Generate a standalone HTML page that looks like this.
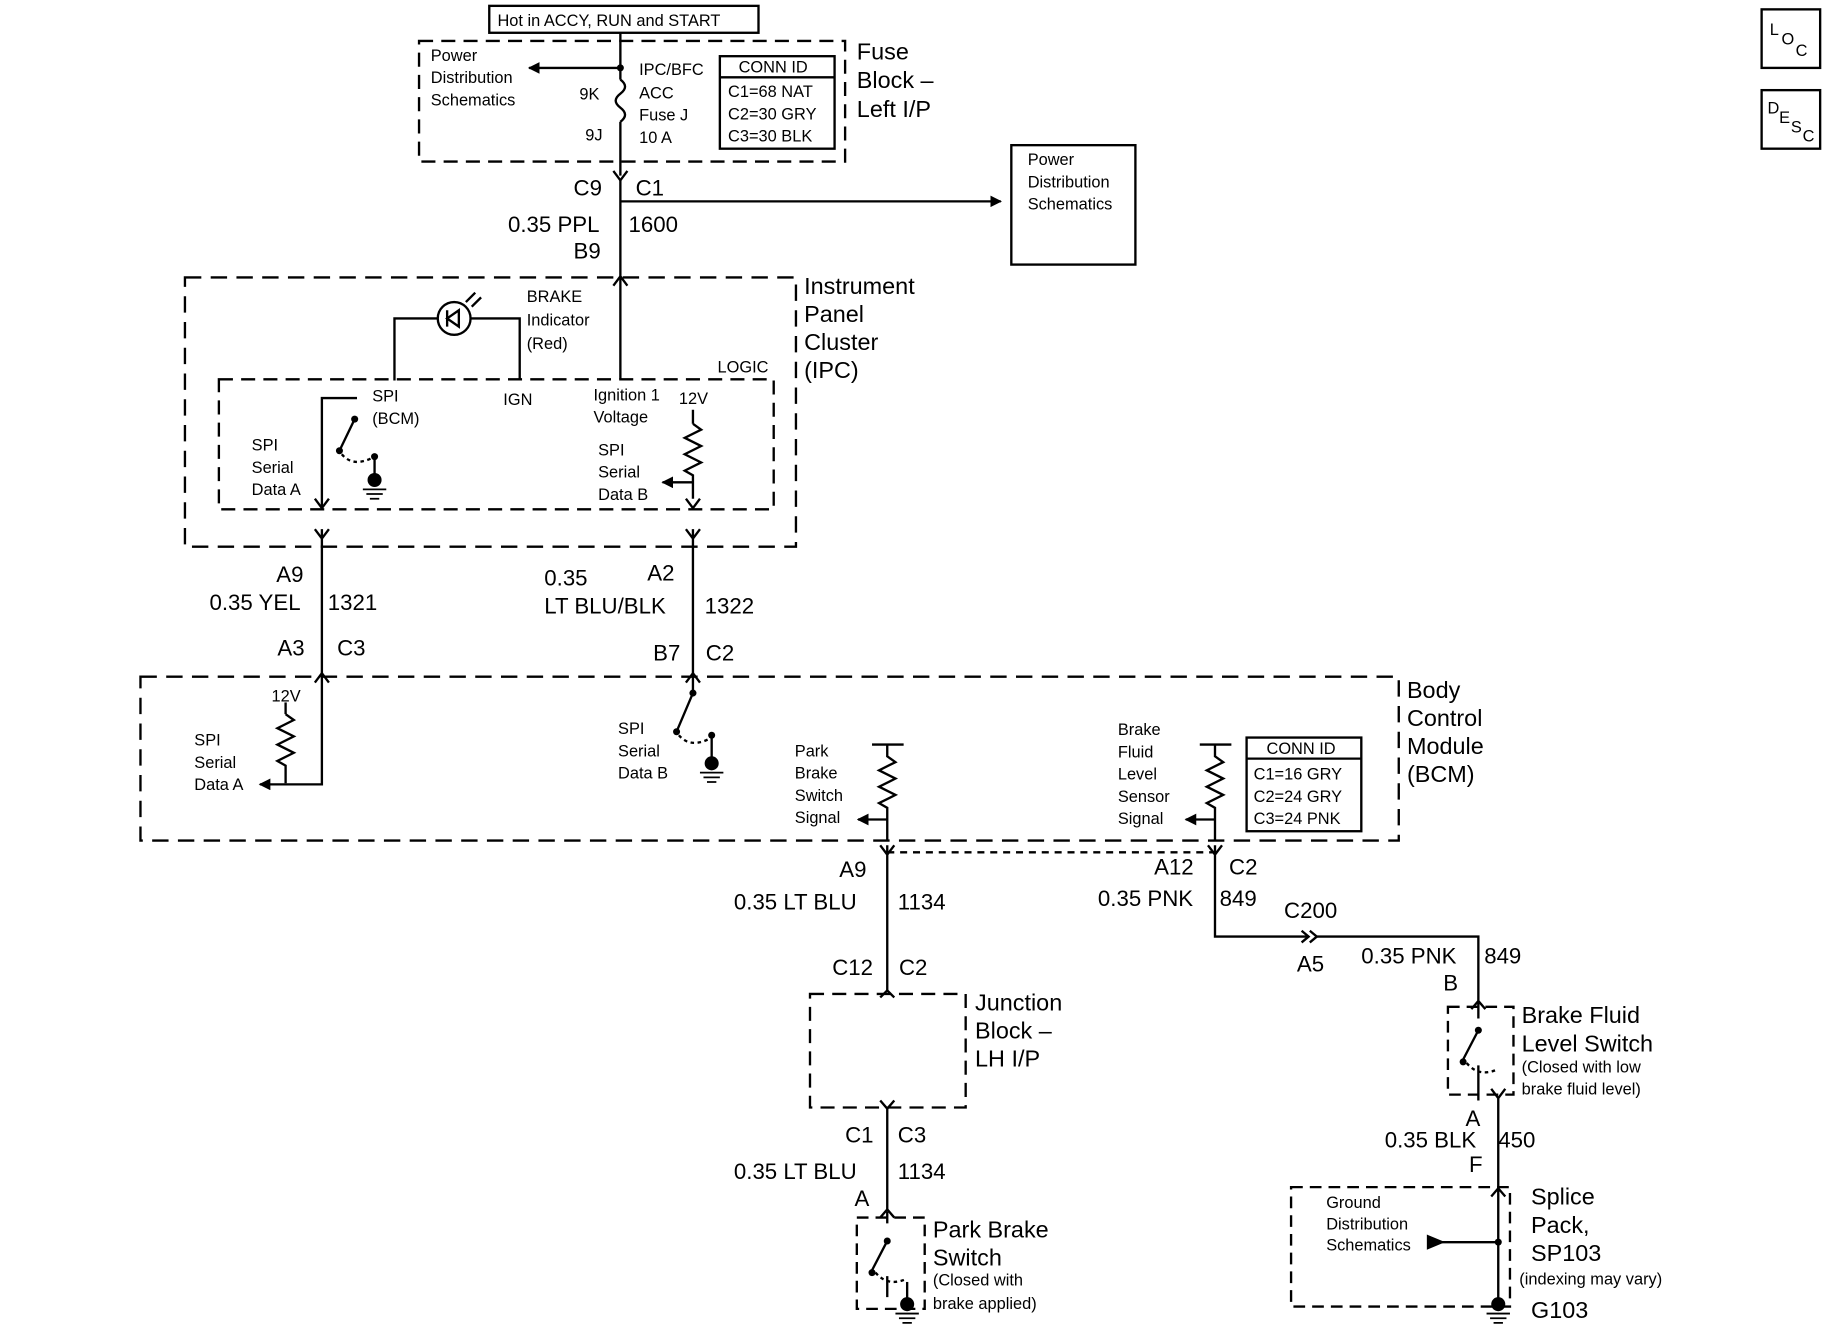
<!DOCTYPE html>
<html><head><meta charset="utf-8"><style>
html,body{margin:0;padding:0;background:#fff;}
svg{display:block;}
text{font-family:"Liberation Sans",Arial,sans-serif;fill:#000;}
.s{font-size:14px;}
.m{font-size:19px;}
.l{font-size:20px;}
</style></head><body>
<svg width="1826" height="1344" viewBox="0 0 1560 1148" preserveAspectRatio="none" xmlns="http://www.w3.org/2000/svg">
<defs>
<marker id="ar" markerWidth="10" markerHeight="10" refX="9" refY="5" orient="auto" markerUnits="userSpaceOnUse"><path d="M0,0 L10,5 L0,10 z" fill="#000"/></marker>
</defs>
<g stroke="#000" stroke-width="2" fill="none">
<!-- top -->
<rect x="418" y="5" width="230" height="23"/>
<rect x="358" y="35" width="364" height="103" stroke-dasharray="12,7"/>
<line x1="530" y1="28" x2="530" y2="68"/>
<path d="M530,68 q8,6 0,12 q-8,6 0,12 q8,6 0,12"/>
<line x1="530" y1="104" x2="530" y2="150"/>
<line x1="530" y1="58" x2="452" y2="58" marker-end="url(#ar)"/>
<rect x="615" y="48" width="98" height="79"/>
<line x1="615" y1="66" x2="713" y2="66"/>
<path d="M524,146 L530,154 L536,146"/>
<line x1="530" y1="154" x2="530" y2="236"/>
<line x1="530" y1="172" x2="855" y2="172" marker-end="url(#ar)"/>
<rect x="864" y="124" width="106" height="102"/>
<!-- IPC -->
<rect x="158" y="237" width="522" height="230" stroke-dasharray="14,8"/>
<path d="M524,244 L530,236 L536,244"/>
<rect x="187" y="324" width="474" height="111" stroke-dasharray="12,7"/>
<circle cx="388" cy="272" r="14"/>
<path d="M382,265 v14 M382,272 l10,-7 v14 z"/>
<path d="M398,258 l8,-8 M403,262 l8,-8"/>
<path d="M337,325 V272 H374 M402,272 H444 V325"/>
<line x1="530" y1="236" x2="530" y2="324"/>
<path d="M305,340 H275 V433"/>
<path d="M269,426 L275,434 L281,426"/>
<path d="M303,358 L290,385"/>
<path d="M292,388 q10,12 28,2" stroke-dasharray="3,3"/>
<line x1="320" y1="390" x2="320" y2="405"/>
<line x1="592" y1="350" x2="592" y2="362"/>
<path d="M592,362 l7,5 l-14,7 l14,7 l-14,7 l14,7 l-14,7 l7,4 v20"/>
<line x1="592" y1="412" x2="566" y2="412" marker-end="url(#ar)"/>
<path d="M586,426 L592,434 L598,426"/>
<path d="M269,452 L275,460 L281,452 M275,452 V575"/>
<path d="M586,452 L592,460 L598,452 M592,452 V575"/>
<!-- BCM -->
<rect x="120" y="578" width="1075" height="140" stroke-dasharray="14,8"/>
<path d="M269,583 L275,575 L281,583 M275,575 V670 H222" marker-end="url(#ar)"/>
<line x1="244" y1="600" x2="244" y2="610"/>
<path d="M244,610 l7,5 l-14,7 l14,7 l-14,7 l14,7 l-14,7 l7,4 v15"/>
<path d="M586,583 L592,575 L598,583 M592,575 V592 L578,625"/>
<path d="M580,628 q10,12 28,2" stroke-dasharray="3,3"/>
<line x1="608" y1="630" x2="608" y2="650"/>
<path d="M745,636 H772 M758,636 V646 l7,5 l-14,7 l14,7 l-14,7 l14,7 l-14,7 l7,4 V718"/>
<line x1="758" y1="700" x2="733" y2="700" marker-end="url(#ar)"/>
<path d="M1025,636 H1052 M1038,636 V646 l7,5 l-14,7 l14,7 l-14,7 l14,7 l-14,7 l7,4 V718"/>
<line x1="1038" y1="700" x2="1013" y2="700" marker-end="url(#ar)"/>
<rect x="1065" y="630" width="98" height="80"/>
<line x1="1065" y1="648" x2="1163" y2="648"/>
<!-- lower -->
<path d="M752,722 L758,730 L764,722 M758,722 V846"/>
<line x1="758" y1="728" x2="1038" y2="728" stroke-dasharray="6,5"/>
<path d="M1032,722 L1038,730 L1044,722 M1038,722 V800 H1118"/>
<path d="M1112,795 l6,5 l-6,5 M1119,795 l6,5 l-6,5"/>
<path d="M1125,800 H1263 V856"/>
<path d="M752,852 L758,846 L764,852"/>
<rect x="692" y="849" width="133" height="97" stroke-dasharray="12,7"/>
<path d="M752,940 L758,947 L764,940 M758,946 V1035"/>
<path d="M752,1040 L758,1033 L764,1040 M758,1035 V1045 M758,1060 L745,1085 M758,1090 V1108"/>
<rect x="732" y="1040" width="58" height="78" stroke-dasharray="10,6"/>
<path d="M748,1087 q10,12 25,6" stroke-dasharray="3,3"/>
<line x1="775" y1="1095" x2="775" y2="1112"/>
<rect x="1237" y="860" width="56" height="75" stroke-dasharray="10,6"/>
<path d="M1257,862 L1263,855 L1269,862 M1263,856 V870 M1263,880 L1250,905 M1263,910 V940"/>
<path d="M1253,908 q10,12 25,6" stroke-dasharray="3,3"/>
<path d="M1274,930 L1280,938 L1286,930 M1280,938 V1118 M1274,1022 L1280,1015 L1286,1022"/>
<rect x="1103" y="1014" width="187" height="102" stroke-dasharray="10,6"/>
<line x1="1280" y1="1061" x2="1232" y2="1061"/>
<path d="M1220,1056 l12,5 l-12,5 z" fill="#000"/>
<rect x="1505" y="8" width="50" height="50"/>
<rect x="1505" y="77" width="50" height="50"/>
</g>
<g fill="#000">
<circle cx="530" cy="58" r="3"/><circle cx="303" cy="358" r="3"/><circle cx="290" cy="385" r="3"/><circle cx="320" cy="390" r="3"/>
<circle cx="320" cy="410" r="6"/><circle cx="608" cy="652" r="6"/><circle cx="775" cy="1114" r="6"/><circle cx="1280" cy="1114" r="6"/>
<circle cx="592" cy="592" r="3"/><circle cx="578" cy="625" r="3"/><circle cx="608" cy="628" r="3"/>
<circle cx="758" cy="1060" r="3"/><circle cx="745" cy="1087" r="3"/><circle cx="1263" cy="880" r="3"/><circle cx="1250" cy="907" r="3"/>
<circle cx="1280" cy="1061" r="3"/>
</g>
<g stroke="#000" stroke-width="1.5">
<path d="M310,418h20M313,422h14M316,426h8"/><path d="M598,660h20M601,664h14M604,668h8"/><path d="M765,1122h20M768,1126h14M771,1130h8"/><path d="M1270,1122h20M1273,1126h14M1276,1130h8"/>
</g>
<text class="s" x="425" y="22">Hot in ACCY, RUN and START</text>
<text class="s" x="368" y="52">Power</text><text class="s" x="368" y="71">Distribution</text><text class="s" x="368" y="90">Schematics</text>
<text class="s" x="495" y="85">9K</text><text class="s" x="500" y="120">9J</text>
<text class="s" x="546" y="64">IPC/BFC</text><text class="s" x="546" y="84">ACC</text><text class="s" x="546" y="103">Fuse J</text><text class="s" x="546" y="122">10 A</text>
<text class="s" x="631" y="62">CONN ID</text><text class="s" x="622" y="83">C1=68 NAT</text><text class="s" x="622" y="102">C2=30 GRY</text><text class="s" x="622" y="121">C3=30 BLK</text>
<text class="l" x="732" y="51">Fuse</text><text class="l" x="732" y="75">Block –</text><text class="l" x="732" y="100">Left I/P</text>
<text class="m" x="490" y="167">C9</text><text class="m" x="543" y="167">C1</text>
<text class="m" x="434" y="198">0.35 PPL</text><text class="m" x="537" y="198">1600</text><text class="m" x="490" y="221">B9</text>
<text class="s" x="878" y="141">Power</text><text class="s" x="878" y="160">Distribution</text><text class="s" x="878" y="179">Schematics</text>
<text class="l" x="687" y="251">Instrument</text><text class="l" x="687" y="275">Panel</text><text class="l" x="687" y="299">Cluster</text><text class="l" x="687" y="323">(IPC)</text>
<text class="s" x="450" y="258">BRAKE</text><text class="s" x="450" y="278">Indicator</text><text class="s" x="450" y="298">(Red)</text>
<text class="s" x="613" y="318">LOGIC</text>
<text class="s" x="318" y="343">SPI</text><text class="s" x="318" y="362">(BCM)</text><text class="s" x="430" y="346">IGN</text>
<text class="s" x="507" y="342">Ignition 1</text><text class="s" x="507" y="361">Voltage</text><text class="s" x="580" y="345">12V</text>
<text class="s" x="215" y="385">SPI</text><text class="s" x="215" y="404">Serial</text><text class="s" x="215" y="423">Data A</text>
<text class="s" x="511" y="389">SPI</text><text class="s" x="511" y="408">Serial</text><text class="s" x="511" y="427">Data B</text>
<text class="m" x="236" y="497">A9</text><text class="m" x="179" y="521">0.35 YEL</text><text class="m" x="280" y="521">1321</text>
<text class="m" x="237" y="560">A3</text><text class="m" x="288" y="560">C3</text>
<text class="m" x="465" y="500">0.35</text><text class="m" x="553" y="496">A2</text><text class="m" x="465" y="524">LT BLU/BLK</text><text class="m" x="602" y="524">1322</text>
<text class="m" x="558" y="564">B7</text><text class="m" x="603" y="564">C2</text>
<text class="l" x="1202" y="596">Body</text><text class="l" x="1202" y="620">Control</text><text class="l" x="1202" y="644">Module</text><text class="l" x="1202" y="668">(BCM)</text>
<text class="s" x="232" y="599">12V</text>
<text class="s" x="166" y="637">SPI</text><text class="s" x="166" y="656">Serial</text><text class="s" x="166" y="675">Data A</text>
<text class="s" x="528" y="627">SPI</text><text class="s" x="528" y="646">Serial</text><text class="s" x="528" y="665">Data B</text>
<text class="s" x="679" y="646">Park</text><text class="s" x="679" y="665">Brake</text><text class="s" x="679" y="684">Switch</text><text class="s" x="679" y="703">Signal</text>
<text class="s" x="955" y="628">Brake</text><text class="s" x="955" y="647">Fluid</text><text class="s" x="955" y="666">Level</text><text class="s" x="955" y="685">Sensor</text><text class="s" x="955" y="704">Signal</text>
<text class="s" x="1082" y="644">CONN ID</text><text class="s" x="1071" y="666">C1=16 GRY</text><text class="s" x="1071" y="685">C2=24 GRY</text><text class="s" x="1071" y="704">C3=24 PNK</text>
<text class="m" x="717" y="749">A9</text><text class="m" x="627" y="777">0.35 LT BLU</text><text class="m" x="767" y="777">1134</text>
<text class="m" x="986" y="747">A12</text><text class="m" x="1050" y="747">C2</text><text class="m" x="938" y="774">0.35 PNK</text><text class="m" x="1042" y="774">849</text>
<text class="m" x="1097" y="784">C200</text><text class="m" x="1108" y="830">A5</text>
<text class="m" x="1163" y="823">0.35 PNK</text><text class="m" x="1268" y="823">849</text><text class="m" x="1233" y="846">B</text>
<text class="m" x="711" y="833">C12</text><text class="m" x="768" y="833">C2</text>
<text class="l" x="833" y="863">Junction</text><text class="l" x="833" y="887">Block –</text><text class="l" x="833" y="911">LH I/P</text>
<text class="m" x="722" y="976">C1</text><text class="m" x="767" y="976">C3</text>
<text class="m" x="627" y="1007">0.35 LT BLU</text><text class="m" x="767" y="1007">1134</text><text class="m" x="730" y="1030">A</text>
<text class="l" x="797" y="1057">Park Brake</text><text class="l" x="797" y="1081">Switch</text>
<text class="s" x="797" y="1098">(Closed with</text><text class="s" x="797" y="1118">brake applied)</text>
<text class="l" x="1300" y="874">Brake Fluid</text><text class="l" x="1300" y="898">Level Switch</text>
<text class="s" x="1300" y="916">(Closed with low</text><text class="s" x="1300" y="935">brake fluid level)</text>
<text class="m" x="1252" y="962">A</text><text class="m" x="1183" y="980">0.35 BLK</text><text class="m" x="1280" y="980">450</text><text class="m" x="1255" y="1001">F</text>
<text class="s" x="1133" y="1032">Ground</text><text class="s" x="1133" y="1050">Distribution</text><text class="s" x="1133" y="1068">Schematics</text>
<text class="l" x="1308" y="1029">Splice</text><text class="l" x="1308" y="1053">Pack,</text><text class="l" x="1308" y="1077">SP103</text>
<text class="s" x="1298" y="1097">(indexing may vary)</text><text class="l" x="1308" y="1126">G103</text>
<text class="s" x="1512" y="30">L</text><text class="s" x="1522" y="38">O</text><text class="s" x="1534" y="48">C</text>
<text class="s" x="1510" y="97">D</text><text class="s" x="1520" y="105">E</text><text class="s" x="1530" y="113">S</text><text class="s" x="1540" y="121">C</text>
</svg>
</body></html>
